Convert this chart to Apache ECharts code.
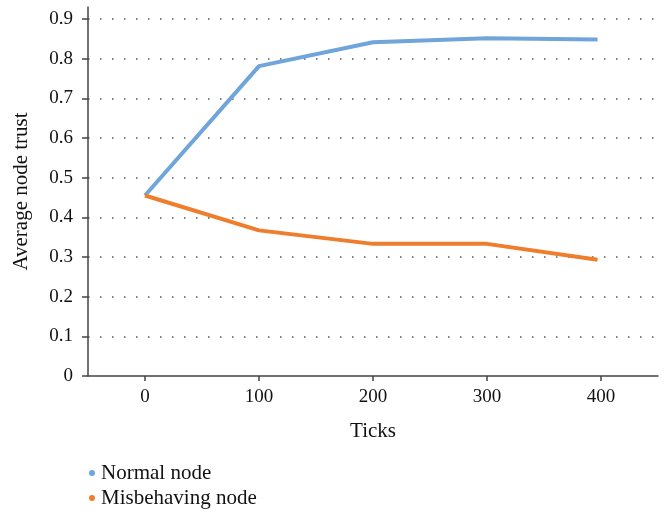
<!DOCTYPE html>
<html>
<head>
<meta charset="utf-8">
<script src="https://cdn.jsdelivr.net/npm/echarts@6/dist/echarts.min.js"></script>
<style>html,body{margin:0;padding:0;background:#fff}#c{width:664px;height:514px}</style>
</head>
<body>
<div id="c"></div>
<script>
const ticksX = [0, 100, 200, 300, 397];
const normalNode = [0.455, 0.781, 0.841, 0.851, 0.848];
const misbehavingNode = [0.455, 0.367, 0.333, 0.333, 0.293];
const xTickLabels = [0, 100, 200, 300, 400];
const yTickLabels = [0, 0.1, 0.2, 0.3, 0.4, 0.5, 0.6, 0.7, 0.8, 0.9];

const font = '"Liberation Serif", "DejaVu Serif", serif';
const chart = echarts.init(document.getElementById('c'));
chart.setOption({
  animation: false,
  textStyle: { fontFamily: font },
  grid: { left: 88, right: 6, top: 7, bottom: 138, containLabel: false },
  legend: {
    orient: 'vertical', left: 89, top: 462, itemGap: 3, padding: 0,
    icon: 'circle', itemWidth: 6, itemHeight: 6,
    textStyle: { fontFamily: font, fontSize: 21, color: '#111', lineHeight: 22, padding: [0, 0, 0, 1] },
    data: ['Normal node', 'Misbehaving node']
  },
  xAxis: {
    type: 'value', min: -50, max: 450,
    name: 'Ticks', nameLocation: 'middle', nameGap: 45,
    nameTextStyle: { fontFamily: font, fontSize: 21, color: '#111' },
    axisLine: { show: true, onZero: false, lineStyle: { color: '#444', width: 1.5 } },
    axisTick: { show: true, customValues: xTickLabels, length: 5, lineStyle: { color: '#444', width: 1.5 } },
    axisLabel: { customValues: xTickLabels, fontFamily: font, fontSize: 19, color: '#111', margin: 12 },
    splitLine: { show: false }
  },
  yAxis: {
    type: 'value', min: 0, max: 0.93, interval: 0.1,
    name: 'Average node trust', nameLocation: 'middle', nameGap: 56, nameRotate: 90,
    nameTextStyle: { fontFamily: font, fontSize: 21, color: '#111' },
    axisLine: { show: true, onZero: false, lineStyle: { color: '#444', width: 1.5 } },
    axisTick: { show: true, customValues: yTickLabels, length: 6, lineStyle: { color: '#444', width: 1.5 } },
    axisLabel: { customValues: yTickLabels, fontFamily: font, fontSize: 19, color: '#111', margin: 15,
      formatter: v => String(Math.round(v * 10) / 10) },
    splitLine: { show: true, showMinLine: false, showMaxLine: true,
      lineStyle: { color: '#555', width: 1.5, type: [1.5, 10.5] } }
  },
  series: [
    { name: 'Normal node', type: 'line', showSymbol: false, symbol: 'circle',
      color: '#6fa5da', lineStyle: { width: 4, color: '#6fa5da' },
      data: ticksX.map((x, i) => [x, normalNode[i]]) },
    { name: 'Misbehaving node', type: 'line', showSymbol: false, symbol: 'circle',
      color: '#ee7d2c', lineStyle: { width: 4, color: '#ee7d2c' },
      data: ticksX.map((x, i) => [x, misbehavingNode[i]]) }
  ]
});
</script>
</body>
</html>
